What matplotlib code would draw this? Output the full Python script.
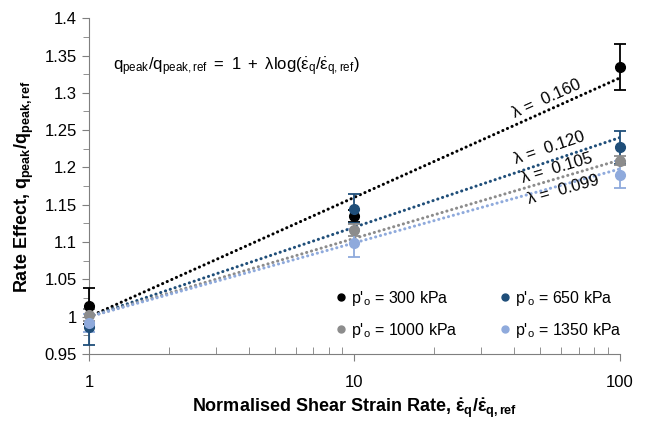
import numpy as np
import matplotlib
matplotlib.use("Agg")
import matplotlib.pyplot as plt
from matplotlib.ticker import FixedLocator, FuncFormatter, MultipleLocator

plt.rcParams['font.family'] = ['Liberation Sans', 'DejaVu Sans']
plt.rcParams['mathtext.fontset'] = 'custom'
plt.rcParams['mathtext.rm'] = 'Liberation Sans'
plt.rcParams['mathtext.it'] = 'Liberation Sans'
plt.rcParams['mathtext.bf'] = 'Liberation Sans:bold'

# data
rates = [1, 10, 100]
labels = ["p'$_\\mathregular{o}$ = 300 kPa", "p'$_\\mathregular{o}$ = 650 kPa",
          "p'$_\\mathregular{o}$ = 1000 kPa", "p'$_\\mathregular{o}$ = 1350 kPa"]
colors = ['#000000', '#1f4e79', '#8c8c8c', '#8faadc']
effect_300 = [1.014, 1.135, 1.335]
effect_650 = [0.986, 1.145, 1.227]
effect_1000 = [1.002, 1.116, 1.209]
effect_1350 = [0.992, 1.099, 1.190]
err_300 = [0.024, 0.008, 0.031]
err_650 = [0.024, 0.020, 0.022]
err_1000 = [0.008, 0.008, 0.006]
err_1350 = [0.012, 0.019, 0.018]
lambdas = [0.160, 0.120, 0.105, 0.099]
# where each lambda label sits (x, y)
lam_pos = [(53, 1.292), (54.5, 1.226), (58, 1.199), (61, 1.170)]

effects = [effect_300, effect_650, effect_1000, effect_1350]
errors = [err_300, err_650, err_1000, err_1350]

fig = plt.figure(figsize=(6.45, 4.23), dpi=100)
ax = fig.add_axes([0.138, 0.163, 0.823, 0.794])
ax.set_xscale('log')
ax.set_xlim(1, 100)
ax.set_ylim(0.95, 1.4)

xfit = np.logspace(0, 2, 50)
for lam, c in zip(lambdas, colors):
    ax.plot(xfit, 1 + lam * np.log10(xfit), color=c, lw=2.2,
            linestyle=(0, (0.05, 1.6)), dash_capstyle='round', zorder=2)

for y, e, c, lab in zip(effects, errors, colors, labels):
    ax.errorbar(rates, y, yerr=e, fmt='o', color=c, ms=7, capsize=4,
                elinewidth=1.3, capthick=1.3, zorder=4, clip_on=False)
    ax.plot([], [], 'o', color=c, ms=5, label=lab)

fig.canvas.draw()
for lam, c, (px, py) in zip(lambdas, colors, lam_pos):
    p0 = ax.transData.transform((1, 1))
    p1 = ax.transData.transform((100, 1 + 2 * lam))
    ang = np.degrees(np.arctan2(p1[1] - p0[1], p1[0] - p0[0]))
    ax.text(px, py, '\u03bb =  %.3f' % lam, rotation=ang, fontsize=12,
            ha='center', va='center', rotation_mode='anchor')

ax.text(0.045, 0.855,
        r'$\mathregular{q_{peak}/q_{peak,ref}\ =\ 1\ +\ \lambda log(\dot{\varepsilon}_q/\dot{\varepsilon}_{q,ref})}$',
        transform=ax.transAxes, fontsize=12, va='center')

handles, labs = ax.get_legend_handles_labels()
order = [0, 2, 1, 3]
ax.legend([handles[i] for i in order], [labs[i] for i in order], ncol=2,
          frameon=False, loc='lower right', bbox_to_anchor=(1.03, 0.0),
          fontsize=11.5, handletextpad=0.2, columnspacing=2.6, handlelength=0.8,
          labelspacing=0.8)

for s in ['top', 'right']:
    ax.spines[s].set_visible(False)
for s in ['left', 'bottom']:
    ax.spines[s].set_color('#7f7f7f')

ax.yaxis.set_major_locator(MultipleLocator(0.05))
ax.yaxis.set_minor_locator(MultipleLocator(0.025))
ax.yaxis.set_major_formatter(FuncFormatter(lambda v, p: '%g' % round(v, 3)))
ax.xaxis.set_major_locator(FixedLocator([1, 10, 100]))
ax.xaxis.set_minor_locator(FixedLocator([k * d for d in [1, 10] for k in range(2, 10)]))
ax.xaxis.set_major_formatter(FuncFormatter(lambda v, p: '%g' % v))
ax.xaxis.set_minor_formatter(FuncFormatter(lambda v, p: ''))
ax.tick_params(axis='both', which='major', labelsize=12, color='#7f7f7f', length=5)
ax.tick_params(axis='y', which='minor', color='#7f7f7f', length=4)
ax.tick_params(axis='x', which='minor', direction='in', color='#7f7f7f', length=5)
ax.tick_params(axis='x', which='major', pad=10)

ax.set_xlabel(r'Normalised Shear Strain Rate, $\mathbf{\dot{\varepsilon}_q/\dot{\varepsilon}_{q,ref}}$',
              fontsize=13, fontweight='bold', labelpad=5)
ax.set_ylabel(r'Rate Effect, $\mathbf{q_{peak}/q_{peak,ref}}$',
              fontsize=13, fontweight='bold', labelpad=6)

fig.savefig('out.png', dpi=100)
